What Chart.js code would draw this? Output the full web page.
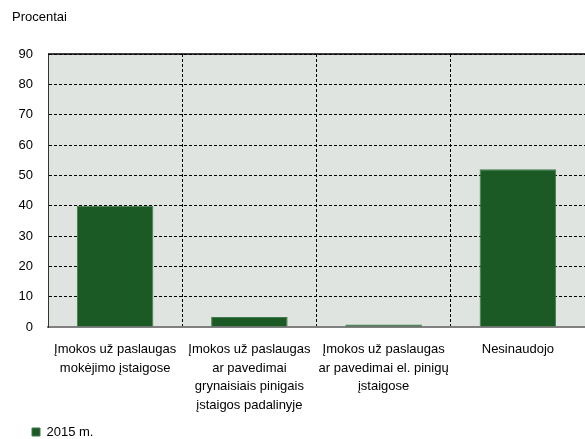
<!DOCTYPE html>
<html>
<head>
<meta charset="utf-8">
<script src="https://cdn.jsdelivr.net/npm/chart.js@4"></script>
<style>
  html, body { margin: 0; padding: 0; background: #fff; }
  #wrap { width: 585px; height: 439px; position: relative; }
</style>
</head>
<body>
<div id="wrap"><canvas id="c" width="585" height="439"></canvas></div>
<script>
const categories = [
  ["Įmokos už paslaugas", "mokėjimo įstaigose"],
  ["Įmokos už paslaugas", "ar pavedimai", "grynaisiais pinigais", "įstaigos padalinyje"],
  ["Įmokos už paslaugas", "ar pavedimai el. pinigų", "įstaigose"],
  ["Nesinaudojo"]
];
const seriesName = "2015 m.";
const values2015 = [40, 3.3, 0.8, 52];
const yTicks = [0, 10, 20, 30, 40, 50, 60, 70, 80, 90];

const FONT = "'Liberation Sans', Arial, sans-serif";

const plotDecor = {
  id: 'plotDecor',
  beforeDraw(chart) {
    const a = chart.chartArea, ctx = chart.ctx;
    ctx.save();
    ctx.fillStyle = '#e0e4e0';
    ctx.fillRect(a.left, a.top, a.right - a.left, a.bottom - a.top);
    ctx.restore();
  },
  afterDatasetsDraw(chart) {
    const a = chart.chartArea, ctx = chart.ctx;
    ctx.save();
    ctx.strokeStyle = '#000';
    ctx.lineWidth = 1.5;
    ctx.beginPath();
    ctx.moveTo(a.left, a.top);
    ctx.lineTo(a.right, a.top);
    ctx.stroke();
    ctx.restore();
  }
};

new Chart(document.getElementById('c'), {
  type: 'bar',
  data: {
    labels: categories,
    datasets: [{
      label: seriesName,
      data: values2015,
      backgroundColor: '#1b5a24',
      borderColor: '#3f7c49',
      borderWidth: 1,
      barPercentage: 0.57,
      categoryPercentage: 1.0
    }]
  },
  options: {
    responsive: false,
    animation: false,
    layout: { padding: { left: 12, right: -6, top: 0, bottom: 0 } },
    plugins: {
      title: {
        display: true,
        text: 'Procentai',
        align: 'start',
        color: '#000',
        font: { family: FONT, size: 13, weight: 'normal', lineHeight: 1.2 },
        padding: { top: 10, bottom: 28.4 }
      },
      legend: {
        display: true,
        position: 'bottom',
        align: 'start',
        maxHeight: 33.5,
        labels: {
          boxWidth: 8,
          boxHeight: 8,
          padding: 20,
          color: '#000',
          font: { family: FONT, size: 13 }
        }
      },
      tooltip: { enabled: false }
    },
    scales: {
      x: {
        afterFit(scale) {
          scale.height = 78.5;
          scale._computeLabelArea = () => undefined;
        },
        grid: { display: true, color: '#000', lineWidth: 1, drawTicks: false, offset: true },
        border: { display: true, color: '#808080', width: 2, dash: [3, 2] },
        ticks: {
          color: '#000',
          padding: 13,
          maxRotation: 0,
          autoSkip: false,
          font: { family: FONT, size: 13, lineHeight: 1.44 }
        }
      },
      y: {
        min: 0,
        max: 90,
        afterFit(scale) { scale.width = 36; },
        afterBuildTicks(scale) { scale.ticks = yTicks.map(v => ({ value: v })); },
        grid: { display: true, color: '#000', lineWidth: 1, drawTicks: false },
        border: { display: true, color: '#333', width: 1, dash: [3, 2] },
        ticks: {
          color: '#000',
          padding: 15,
          font: { family: FONT, size: 13 }
        }
      }
    }
  },
  plugins: [plotDecor]
});
</script>
</body>
</html>
